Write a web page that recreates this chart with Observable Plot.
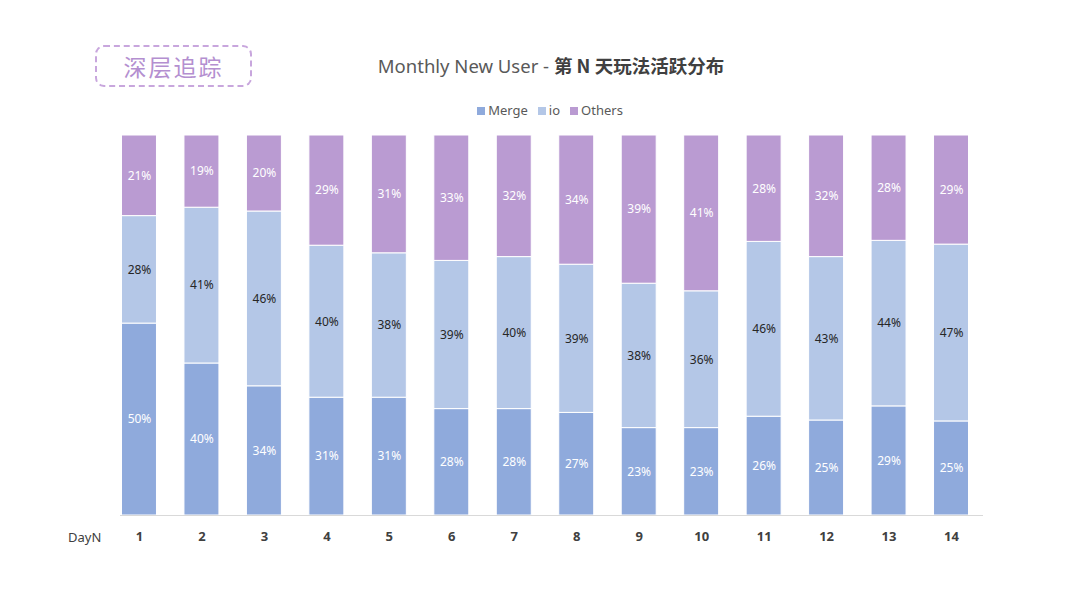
<!DOCTYPE html>
<html>
<head>
<meta charset="utf-8">
<script src="https://cdn.jsdelivr.net/npm/d3@7"></script>
<script src="https://cdn.jsdelivr.net/npm/@observablehq/plot@0.6"></script>
<style>
  html, body { margin: 0; padding: 0; background: #fff; }
  #wrap { position: relative; width: 1080px; height: 608px; overflow: hidden;
          font-family: "Noto Sans", "Noto Sans CJK SC", sans-serif; }
  #chart { position: absolute; left: 0; top: 0; }
  #badge { position: absolute; left: 95px; top: 45px; width: 153px; height: 38px;
           border: 2px dashed #C8A6DD; border-radius: 9px;
           color: #B48FD0; font-family: "Noto Sans CJK SC", sans-serif; font-size: 23px;
           line-height: 38px; text-align: center; letter-spacing: 2px; }
  #title { position: absolute; left: 0; width: 1102px; top: 52px; text-align: center;
           font-size: 18.5px; color: #595959; white-space: nowrap; }
  #title b { color: #404040; font-family: "Noto Sans CJK SC", sans-serif; font-weight: 700; }
  #legend { position: absolute; left: 0; width: 1100px; top: 101px; text-align: center;
            font-size: 13px; color: #595959; white-space: nowrap; }
  #legend span.item { margin: 0 5px; }
  #legend i { display: inline-block; width: 8px; height: 8px; margin-right: 3px; vertical-align: 0px; }
  #dayn { position: absolute; left: 68px; top: 528px; font-size: 13px; color: #404040; }
</style>
</head>
<body>
<div id="wrap">
  <div id="chart"></div>
  <div id="badge">深层追踪</div>
  <div id="title">Monthly New User - <b>第 N 天玩法活跃分布</b></div>
  <div id="legend"></div>
  <div id="dayn">DayN</div>
</div>
<script>
const days = ["1","2","3","4","5","6","7","8","9","10","11","12","13","14"];
const seriesNames = ["Merge", "io", "Others"];
const mergeValues  = [50, 40, 34, 31, 31, 28, 28, 27, 23, 23, 26, 25, 29, 25];
const ioValues     = [28, 41, 46, 40, 38, 39, 40, 39, 38, 36, 46, 43, 44, 47];
const othersValues = [21, 19, 20, 29, 31, 33, 32, 34, 39, 41, 28, 32, 28, 29];
const seriesColors = ["#8FAADC", "#B4C7E7", "#BA9BD2"];

const valuesBySeries = [mergeValues, ioValues, othersValues];
const data = [];
days.forEach((day, i) => {
  seriesNames.forEach((s, k) => data.push({ day, series: s, value: valuesBySeries[k][i] }));
});

const W = 1080, H = 608;
const plot = Plot.plot({
  width: W,
  height: H,
  marginTop: 135,
  marginBottom: 93,
  marginLeft: 94,
  marginRight: 84,
  style: { fontFamily: '"Noto Sans", "Noto Sans CJK SC", sans-serif', background: "transparent" },
  x: { domain: days, padding: 0.44, round: false, label: null, tickSize: 0, tickPadding: 16 },
  y: { axis: null, domain: [0, 1] },
  color: { domain: seriesNames, range: seriesColors },
  marks: [
    Plot.barY(data, Plot.stackY({ offset: "normalize" },
      { x: "day", y: "value", fill: "series", stroke: "white", strokeWidth: 1 })),
    Plot.text(data, Plot.stackY({ offset: "normalize" },
      { x: "day", y: "value", z: "series",
        text: d => d.series === "io" ? "" : d.value + "%",
        fill: "white", fontSize: 12 })),
    Plot.text(data, Plot.stackY({ offset: "normalize" },
      { x: "day", y: "value", z: "series",
        text: d => d.series === "io" ? d.value + "%" : "",
        fill: "#262626", fontSize: 12 })),
    Plot.axisX({ tickSize: 0, tickPadding: 16, fontSize: 13, fontWeight: "bold", fill: "#404040", label: null })
  ]
});
document.getElementById("chart").appendChild(plot);

// baseline at y = 0 using the chart's own y scale
const y0 = plot.scale("y").apply(0);
d3.select(plot).append("line")
  .attr("x1", 120).attr("x2", 983)
  .attr("y1", y0 + 0.5).attr("y2", y0 + 0.5)
  .attr("stroke", "#D9D9D9").attr("stroke-width", 1);

// legend
const legend = document.getElementById("legend");
seriesNames.forEach((s, k) => {
  const item = document.createElement("span");
  item.className = "item";
  item.innerHTML = `<i style="background:${seriesColors[k]}"></i>${s}`;
  legend.appendChild(item);
});
</script>
</body>
</html>
